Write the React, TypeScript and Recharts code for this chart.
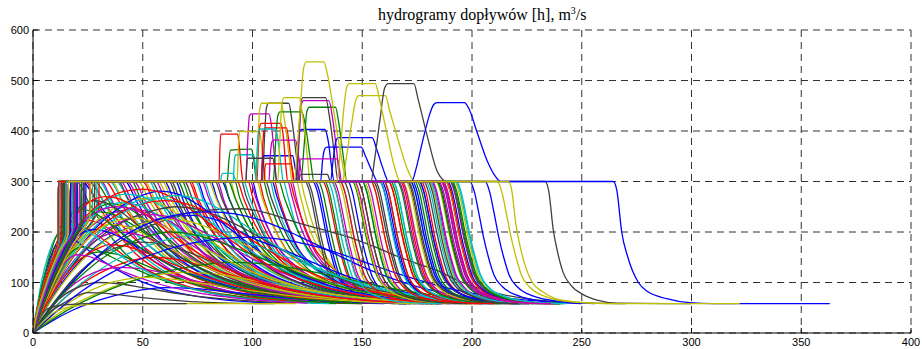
import React from "react";
import { LineChart, Line, XAxis, YAxis, CartesianGrid } from "recharts";

// MATLAB default line colour order: b g r c m y k
const COLORS = ["#0000ff", "#008000", "#ff0000", "#00bfbf", "#bf00bf", "#bfbf00", "#404040"];

const xTicks = [0, 50, 100, 150, 200, 250, 300, 350, 400];
const yTicks = [0, 100, 200, 300, 400, 500, 600];

// each run is a list of [t (h), Q (m3/s)]
// hydrographs clipped at 300
const cappedRuns: number[][][] = [
  [[0,0],[2,46],[4,80],[7,123],[9,146],[11.5,190],[11.6,300],[22,300],[30,255],[40,200],[52,152],[68,112],[90,82],[120,65],[160,58]],
  [[0,0],[2,42],[4,75],[7,118],[10,152],[13,188],[13.1,300],[28,300],[35,258],[45,205],[58,155],[75,115],[98,84],[128,66],[170,58]],
  [[0,0],[3,52],[6,96],[9,132],[12,166],[15,196],[15.1,300],[33,300],[39,262],[48,212],[60,162],[76,120],[98,88],[126,68],[165,58]],
  [[0,0],[3,46],[6,86],[10,131],[14,170],[17,198],[17.1,300],[38,300],[44,258],[53,205],[65,157],[80,118],[102,87],[130,67],[172,58]],
  [[0,0],[2,44],[5,88],[8,126],[11,160],[14,190],[14.1,300],[43,300],[48,265],[56,215],[67,165],[82,124],[102,92],[128,70],[168,58]],
  [[0,0],[3,41],[7,91],[11,136],[16,181],[20,212],[20.1,300],[48,300],[53,262],[61,210],[72,160],[87,120],[108,89],[135,68],[175,58]],
  [[0,0],[2,43],[5,84],[8,122],[12,162],[16,195],[16.1,300],[54,300],[59,260],[67,208],[78,158],[93,118],[114,88],[142,68],[182,58]],
  [[0,0],[3,48],[6,90],[10,135],[14,172],[18,204],[18.1,300],[60,300],[64,265],[71,214],[81,164],[95,123],[115,91],[142,70],[180,58]],
  [[0,0],[4,47],[8,92],[13,142],[18,185],[23,222],[23.1,300],[66,300],[70,262],[77,210],[86,162],[99,122],[118,90],[145,69],[182,58]],
  [[0,0],[2,45],[4,78],[7,120],[10,155],[12,180],[12.1,300],[72,300],[75,268],[81,218],[90,168],[102,127],[120,94],[145,72],[180,59]],
  [[0,0],[3,44],[6,84],[10,130],[14,168],[19,208],[19.1,300],[78,300],[81,266],[87,214],[95,166],[107,125],[124,93],[148,71],[185,58]],
  [[0,0],[2,42],[4,75],[7,118],[10,152],[13,188],[13.1,300],[84,300],[87,262],[92,212],[100,162],[111,122],[127,91],[150,70],[185,58]],
  [[0,0],[3,52],[6,96],[9,132],[12,166],[15,196],[15.1,300],[90,300],[92,270],[97,220],[104,168],[114,126],[129,94],[150,72],[182,59]],
  [[0,0],[4,50],[8,96],[12,138],[17,182],[22,218],[22.1,300],[95,300],[97,272],[102,222],[108,170],[117,128],[131,95],[152,73],[185,59]],
  [[0,0],[2,43],[5,84],[8,122],[12,162],[16,195],[16.1,300],[100,300],[102,268],[106,218],[112,168],[121,127],[134,95],[154,73],[186,59]],
  [[0,0],[3,48],[6,90],[10,135],[14,172],[18,204],[18.1,300],[105,300],[107,270],[111,220],[117,168],[125,128],[138,96],[157,74],[188,59]],
  [[0,0],[2,44],[5,88],[8,126],[11,160],[14,190],[14.1,300],[110,300],[112,268],[116,216],[121,166],[129,126],[141,95],[160,73],[190,59]],
  [[0,0],[3,41],[7,91],[11,136],[16,181],[20,212],[20.1,300],[114,300],[116,272],[119,224],[124,172],[131,130],[142,98],[160,75],[190,59]],
  [[0,0],[2,42],[4,75],[7,118],[10,152],[13,188],[13.1,300],[118,300],[120,266],[123,216],[128,165],[135,125],[146,95],[164,74],[192,59]],
  [[0,0],[3,46],[6,86],[10,131],[14,170],[17,198],[17.1,300],[122,300],[123.5,275],[127,222],[131,172],[137,130],[147,98],[164,75],[193,59]],
  [[0,0],[2,46],[4,80],[7,123],[9,146],[11.5,190],[11.6,300],[125,300],[127,280],[129,240],[131,195],[133.5,150],[136,114],[140,89],[147,72],[158,62],[175,58]],
  [[0,0],[4,44],[9,96],[15,150],[21,196],[26,232],[26.1,300],[127.5,300],[129.5,281],[131.5,242],[133.5,197],[136,152],[138.5,116],[142.5,90],[149.5,73],[160.5,62],[178,58]],
  [[0,0],[3,44],[6,84],[10,130],[14,168],[19,208],[19.1,300],[130,300],[132,279],[134,238],[136,193],[138.5,148],[141,112],[145,88],[152,71],[163,61],[180,58]],
  [[0,0],[3,52],[6,96],[9,132],[12,166],[15,196],[15.1,300],[132,300],[134,282],[136,243],[138,199],[140.5,153],[143,117],[147,91],[154,73],[165,62],[182,58]],
  [[0,0],[2,45],[4,78],[7,120],[10,155],[12,180],[12.1,300],[134.5,300],[136.5,278],[138.5,236],[140.5,190],[143,146],[145.5,111],[149.5,87],[156.5,71],[167.5,61],[185,58]],
  [[0,0],[4,47],[8,92],[13,142],[18,185],[23,222],[23.1,300],[137,300],[139,281],[141,240],[143,196],[145.5,151],[148,115],[152,90],[159,72],[170,62],[187,58]],
  [[0,0],[2,43],[5,84],[8,122],[12,162],[16,195],[16.1,300],[139,300],[141,280],[143,239],[145,194],[147.5,149],[150,113],[154,88],[161,72],[172,62],[189,58]],
  [[0,0],[3,41],[7,91],[11,136],[16,181],[20,212],[20.1,300],[141.5,300],[143.5,283],[145.5,244],[147.5,200],[150,155],[152.5,118],[156.5,92],[163.5,74],[174.5,63],[191,58]],
  [[0,0],[2,44],[5,88],[8,126],[11,160],[14,190],[14.1,300],[143.5,300],[145.5,279],[147.5,237],[149.5,192],[152,147],[154.5,112],[158.5,87],[165.5,71],[176.5,61],[193,58]],
  [[0,0],[2,42],[4,75],[7,118],[10,152],[13,188],[13.1,300],[145.5,300],[147.5,281],[149.5,241],[151.5,196],[154,151],[156.5,115],[160.5,90],[167.5,72],[178.5,62],[195,58]],
  [[0,0],[3,48],[6,90],[10,135],[14,172],[18,204],[18.1,300],[148,300],[150,280],[152,240],[154,195],[156.5,150],[159,114],[163,89],[170,72],[181,62],[198,58]],
  [[0,0],[4,50],[8,96],[12,138],[17,182],[22,218],[22.1,300],[150,300],[152,282],[154,242],[156,198],[158.5,152],[161,116],[165,90],[172,73],[183,62],[200,58]],
  [[0,0],[3,46],[6,86],[10,131],[14,170],[17,198],[17.1,300],[152,300],[154,279],[156,238],[158,193],[160.5,148],[163,113],[167,88],[174,71],[185,61],[202,58]],
  [[0,0],[2,46],[4,80],[7,123],[9,146],[11.5,190],[11.6,300],[154,300],[156,281],[158,240],[160,196],[162.5,151],[165,115],[169,90],[176,72],[187,62],[204,58]],
  [[0,0],[3,52],[6,96],[9,132],[12,166],[15,196],[15.1,300],[156,300],[158,280],[160,239],[162,194],[164.5,149],[167,113],[171,88],[178,72],[189,62],[206,58]],
  [[0,0],[4,44],[9,96],[15,150],[21,196],[26,232],[26.1,300],[158,300],[160,282],[162,243],[164,199],[166.5,154],[169,117],[173,91],[180,73],[191,62],[208,58]],
  [[0,0],[3,44],[6,84],[10,130],[14,168],[19,208],[19.1,300],[160,300],[162,279],[164,237],[166,192],[168.5,147],[171,112],[175,87],[182,71],[193,61],[210,58]],
  [[0,0],[2,45],[4,78],[7,120],[10,155],[12,180],[12.1,300],[162,300],[164,281],[166,241],[168,196],[170.5,151],[173,115],[177,90],[184,72],[195,62],[212,58]],
  [[0,0],[4,47],[8,92],[13,142],[18,185],[23,222],[23.1,300],[164,300],[166,280],[168,240],[170,195],[172.5,150],[175,114],[179,89],[186,72],[197,62],[214,58]],
  [[0,0],[2,43],[5,84],[8,122],[12,162],[16,195],[16.1,300],[166.5,300],[168.5,282],[170.5,242],[172.5,198],[175,152],[177.5,116],[181.5,90],[188.5,73],[199.5,62],[216,58]],
  [[0,0],[3,41],[7,91],[11,136],[16,181],[20,212],[20.1,300],[168.5,300],[170.5,279],[172.5,238],[174.5,193],[177,148],[179.5,113],[183.5,88],[190.5,71],[201.5,61],[218,58]],
  [[0,0],[2,44],[5,88],[8,126],[11,160],[14,190],[14.1,300],[170.5,300],[172.5,281],[174.5,240],[176.5,196],[179,151],[181.5,115],[185.5,90],[192.5,72],[203.5,62],[220,58]],
  [[0,0],[2,42],[4,75],[7,118],[10,152],[13,188],[13.1,300],[173,300],[175,280],[177,239],[179,194],[181.5,149],[184,113],[188,88],[195,72],[206,62],[222,58]],
  [[0,0],[3,48],[6,90],[10,135],[14,172],[18,204],[18.1,300],[175,300],[177,282],[179,243],[181,199],[183.5,153],[186,117],[190,91],[197,73],[208,62],[224,58]],
  [[0,0],[3,46],[6,86],[10,131],[14,170],[17,198],[17.1,300],[177,300],[179,279],[181,237],[183,192],[185.5,147],[188,112],[192,87],[199,71],[210,61],[226,58]],
  [[0,0],[3,52],[6,96],[9,132],[12,166],[15,196],[15.1,300],[179,300],[181,281],[183,241],[185,196],[187.5,151],[190,115],[194,90],[201,72],[212,62],[228,58]],
  [[0,0],[4,50],[8,96],[12,138],[17,182],[22,218],[22.1,300],[181.5,300],[183.5,280],[185.5,240],[187.5,195],[190,150],[192.5,114],[196.5,89],[203.5,72],[214.5,62],[231,58]],
  [[0,0],[2,46],[4,80],[7,123],[9,146],[11.5,190],[11.6,300],[183.5,300],[185.5,282],[187.5,242],[189.5,198],[192,152],[194.5,116],[198.5,90],[205.5,73],[216.5,62],[233,58]],
  [[0,0],[3,44],[6,84],[10,130],[14,168],[19,208],[19.1,300],[186,300],[188,279],[190,238],[192,193],[194.5,148],[197,113],[201,88],[208,71],[219,61],[235,58]],
  [[0,0],[4,47],[8,92],[13,142],[18,185],[23,222],[23.1,300],[188,300],[190,281],[192,241],[194,196],[196.5,151],[199,115],[203,90],[210,72],[221,62],[237,58]],
  [[0,0],[2,43],[5,84],[8,122],[12,162],[16,195],[16.1,300],[190,300],[192,280],[194,240],[196,195],[198.5,150],[201,114],[205,89],[212,72],[223,62],[240,58]],
  [[0,0],[2,44],[5,88],[8,126],[11,160],[14,190],[14.1,300],[25,300],[34,248],[45,192],[58,146],[75,108],[98,80],[130,64],[170,58]],
  [[0,0],[3,44],[6,84],[10,130],[14,168],[19,208],[19.1,300],[35,300],[41,258],[50,206],[62,158],[78,118],[100,88],[128,68],[168,58]],
  [[0,0],[3,52],[6,96],[9,132],[12,166],[15,196],[15.1,300],[46,300],[51,262],[59,210],[70,160],[85,120],[106,89],[133,68],[172,58]],
  [[0,0],[4,50],[8,96],[12,138],[17,182],[22,218],[22.1,300],[57,300],[62,258],[70,206],[81,156],[96,116],[117,87],[145,68],[185,58]],
  [[0,0],[2,46],[4,80],[7,123],[9,146],[11.5,190],[11.6,300],[69,300],[73,262],[80,210],[89,162],[102,122],[121,90],[147,70],[185,58]],
  [[0,0],[2,43],[5,84],[8,122],[12,162],[16,195],[16.1,300],[81,300],[84,264],[90,214],[98,165],[109,124],[126,93],[150,71],[186,58]],
  [[0,0],[3,41],[7,91],[11,136],[16,181],[20,212],[20.1,300],[92,300],[94,270],[99,220],[106,168],[116,127],[131,95],[153,73],[186,59]],
  [[0,0],[3,46],[6,86],[10,131],[14,170],[17,198],[17.1,300],[103,300],[105,268],[109,218],[115,167],[124,127],[137,95],[157,74],[188,59]],
];

// clipped runs that leave 300 early, with slower recessions
const midRuns: number[][][] = [
  [[0,0],[2,45],[4,78],[7,120],[10,155],[12,180],[12.1,300],[20,300],[25,262],[32,212],[41,162],[53,122],[70,92],[95,72],[130,60]],
  [[0,0],[2,42],[4,75],[7,118],[10,152],[13,188],[13.1,300],[24,300],[29,258],[37,206],[47,156],[60,118],[78,90],[104,71],[140,60]],
  [[0,0],[2,44],[5,88],[8,126],[11,160],[14,190],[14.1,300],[27,300],[31,268],[38,218],[46,170],[57,130],[73,98],[96,76],[130,62]],
  [[0,0],[2,46],[4,80],[7,123],[9,146],[11.5,190],[11.6,300],[31,300],[36,262],[43,212],[52,162],[64,122],[81,92],[106,72],[141,60]],
  [[0,0],[2,43],[5,84],[8,122],[12,162],[16,195],[16.1,300],[36,300],[41,260],[49,208],[59,158],[72,120],[90,91],[115,72],[150,60]],
  [[0,0],[3,52],[6,96],[9,132],[12,166],[15,196],[15.1,300],[39,300],[43,268],[50,218],[58,170],[69,130],[85,98],[108,76],[142,62]],
  [[0,0],[3,44],[6,84],[10,130],[14,168],[19,208],[19.1,300],[42,300],[47,262],[54,212],[63,162],[75,122],[92,92],[117,72],[152,60]],
  [[0,0],[3,46],[6,86],[10,131],[14,170],[17,198],[17.1,300],[45,300],[49,266],[56,216],[65,166],[77,126],[94,95],[118,74],[152,61]],
  [[0,0],[3,48],[6,90],[10,135],[14,172],[18,204],[18.1,300],[50,300],[55,260],[63,208],[73,158],[86,120],[104,91],[129,72],[164,60]],
  [[0,0],[3,41],[7,91],[11,136],[16,181],[20,212],[20.1,300],[53,300],[57,266],[64,216],[73,166],[85,126],[102,95],[126,74],[160,61]],
  [[0,0],[4,50],[8,96],[12,138],[17,182],[22,218],[22.1,300],[56,300],[60,265],[67,214],[76,164],[88,124],[105,93],[129,73],[163,60]],
  [[0,0],[4,47],[8,92],[13,142],[18,185],[23,222],[23.1,300],[59,300],[63,264],[70,212],[79,162],[91,122],[108,92],[132,72],[166,60]],
  [[0,0],[4,44],[9,96],[15,150],[21,196],[26,232],[26.1,300],[62,300],[65.5,265],[71,215],[79,165],[90,125],[106,94],[128,73],[160,60]],
  [[0,0],[2,45],[4,78],[7,120],[10,155],[12,180],[12.1,300],[65,300],[68.5,262],[74,212],[82,162],[93,122],[109,92],[131,72],[163,60]],
  [[0,0],[2,42],[4,75],[7,118],[10,152],[13,188],[13.1,300],[68,300],[71,268],[76,220],[83,170],[93,130],[108,97],[129,75],[160,61]],
  [[0,0],[2,44],[5,88],[8,126],[11,160],[14,190],[14.1,300],[71,300],[74.5,265],[80,215],[88,165],[99,125],[115,94],[137,73],[169,60]],
  [[0,0],[2,46],[4,80],[7,123],[9,146],[11.5,190],[11.6,300],[74,300],[77.5,263],[83,213],[91,163],[102,123],[118,93],[140,72],[172,60]],
  [[0,0],[2,43],[5,84],[8,122],[12,162],[16,195],[16.1,300],[77,300],[80,268],[85,220],[92,170],[102,130],[117,97],[138,75],[169,61]],
  [[0,0],[3,52],[6,96],[9,132],[12,166],[15,196],[15.1,300],[80,300],[83.5,265],[89,215],[97,165],[108,125],[124,94],[146,73],[178,60]],
  [[0,0],[3,44],[6,84],[10,130],[14,168],[19,208],[19.1,300],[83,300],[86,267],[91,218],[98,168],[108,128],[123,96],[144,74],[175,60]],
  [[0,0],[3,46],[6,86],[10,131],[14,170],[17,198],[17.1,300],[86,300],[89.5,264],[95,214],[103,164],[114,124],[130,93],[152,72],[184,60]],
  [[0,0],[3,48],[6,90],[10,135],[14,172],[18,204],[18.1,300],[89,300],[92,268],[97,220],[104,170],[114,130],[129,97],[150,75],[180,61]],
  [[0,0],[3,41],[7,91],[11,136],[16,181],[20,212],[20.1,300],[93,300],[96,266],[101,216],[108,166],[118,126],[133,95],[154,74],[185,60]],
  [[0,0],[4,50],[8,96],[12,138],[17,182],[22,218],[22.1,300],[96,300],[98.5,270],[103,220],[109,170],[118,130],[131,97],[150,75],[180,61]],
  [[0,0],[4,47],[8,92],[13,142],[18,185],[23,222],[23.1,300],[99,300],[101.5,268],[106,218],[112,168],[121,128],[134,96],[153,74],[183,60]],
  [[0,0],[4,44],[9,96],[15,150],[21,196],[26,232],[26.1,300],[102,300],[104.5,266],[109,216],[115,166],[124,126],[137,95],[156,74],[186,60]],
  [[0,0],[2,45],[4,78],[7,120],[10,155],[12,180],[12.1,300],[106,300],[108.5,268],[113,218],[119,168],[128,128],[141,96],[160,74],[190,60]],
  [[0,0],[2,42],[4,75],[7,118],[10,152],[13,188],[13.1,300],[109,300],[111,272],[115,222],[120,172],[128,132],[140,99],[158,76],[188,61]],
  [[0,0],[2,44],[5,88],[8,126],[11,160],[14,190],[14.1,300],[112,300],[114.5,268],[119,218],[125,168],[134,128],[147,96],[166,74],[196,60]],
  [[0,0],[2,46],[4,80],[7,123],[9,146],[11.5,190],[11.6,300],[117,300],[119,270],[123,220],[128,170],[136,130],[148,98],[166,75],[194,60]],
];

// more clipped runs, in between the ones above
const extraRuns: number[][][] = [
  [[0,0],[4,40],[9,88],[15,138],[21,180],[27,218],[27.1,300],[30,300],[37,250],[47,196],[60,150],[77,112],[100,84],[130,66],[170,58]],
  [[0,0],[3,50],[7,100],[12,150],[17,190],[21,214],[21.1,300],[40,300],[46,250],[55,198],[67,152],[83,114],[105,86],[133,67],[172,58]],
  [[0,0],[5,52],[10,100],[16,150],[22,194],[28,232],[28.1,300],[51,300],[56,258],[64,206],[75,158],[90,118],[111,88],[138,68],[178,58]],
  [[0,0],[2,47],[5,92],[8,130],[11,163],[13,184],[13.1,300],[63,300],[67,262],[74,210],[84,160],[98,120],[117,89],[143,69],[182,58]],
  [[0,0],[4,46],[8,90],[13,140],[19,188],[24,224],[24.1,300],[75,300],[78,266],[84,214],[93,164],[105,124],[122,92],[147,71],[185,58]],
  [[0,0],[3,45],[7,94],[11,138],[15,176],[18,202],[18.1,300],[87,300],[89,272],[94,222],[101,170],[112,128],[127,95],[149,73],[184,59]],
  [[0,0],[5,50],[10,98],[16,148],[23,200],[30,246],[30.1,300],[98,300],[100,270],[104,222],[110,172],[119,130],[132,97],[152,74],[185,59]],
  [[0,0],[2,44],[5,86],[9,132],[13,170],[15,188],[15.1,300],[108,300],[110,268],[114,218],[120,168],[128,128],[140,96],[159,74],[190,59]],
  [[0,0],[3,47],[6,88],[10,132],[15,178],[19,210],[19.1,300],[116,300],[118,270],[121,222],[126,170],[133,128],[144,97],[162,75],[191,59]],
  [[0,0],[4,48],[8,94],[13,144],[18,186],[22,214],[22.1,300],[120,300],[122,268],[125,218],[130,168],[137,128],[148,97],[165,75],[193,59]],
  [[0,0],[2,44],[5,88],[8,126],[11,160],[14,190],[14.1,300],[124,300],[126,280],[128,240],[130,195],[132.5,150],[135,114],[139,89],[146,72],[157,62],[174,58]],
  [[0,0],[4,50],[8,96],[12,138],[17,182],[22,218],[22.1,300],[128.5,300],[130.5,281],[132.5,241],[134.5,196],[137,151],[139.5,115],[143.5,90],[150.5,72],[161.5,62],[178,58]],
  [[0,0],[3,41],[7,91],[11,136],[16,181],[20,212],[20.1,300],[133,300],[135,279],[137,238],[139,193],[141.5,148],[144,113],[148,88],[155,71],[166,61],[183,58]],
  [[0,0],[2,42],[4,75],[7,118],[10,152],[13,188],[13.1,300],[136,300],[138,282],[140,242],[142,197],[144.5,152],[147,116],[151,90],[158,73],[169,62],[186,58]],
  [[0,0],[5,50],[10,98],[16,148],[23,200],[29,240],[29.1,300],[140,300],[142,280],[144,239],[146,194],[148.5,149],[151,113],[155,88],[162,72],[173,62],[190,58]],
  [[0,0],[3,48],[6,90],[10,135],[14,172],[18,204],[18.1,300],[146.5,300],[148.5,281],[150.5,241],[152.5,196],[155,151],[157.5,115],[161.5,90],[168.5,72],[179.5,62],[196,58]],
  [[0,0],[2,46],[4,80],[7,123],[9,146],[11.5,190],[11.6,300],[151,300],[153,279],[155,238],[157,193],[159.5,148],[162,113],[166,88],[173,71],[184,61],[201,58]],
  [[0,0],[4,47],[8,92],[13,142],[18,185],[23,222],[23.1,300],[155,300],[157,282],[159,242],[161,198],[163.5,152],[166,116],[170,90],[177,73],[188,62],[205,58]],
  [[0,0],[3,52],[6,96],[9,132],[12,166],[15,196],[15.1,300],[159,300],[161,280],[163,240],[165,195],[167.5,150],[170,114],[174,89],[181,72],[192,62],[209,58]],
  [[0,0],[2,45],[4,78],[7,120],[10,155],[12,180],[12.1,300],[163,300],[165,281],[167,241],[169,196],[171.5,151],[174,115],[178,90],[185,72],[196,62],[213,58]],
  [[0,0],[4,44],[9,96],[15,150],[21,196],[26,232],[26.1,300],[167.5,300],[169.5,279],[171.5,238],[173.5,193],[176,148],[178.5,113],[182.5,88],[189.5,71],[200.5,61],[217,58]],
  [[0,0],[3,44],[6,84],[10,130],[14,168],[19,208],[19.1,300],[172,300],[174,282],[176,242],[178,198],[180.5,152],[183,116],[187,90],[194,73],[205,62],[222,58]],
  [[0,0],[2,43],[5,84],[8,122],[12,162],[16,195],[16.1,300],[176,300],[178,280],[180,240],[182,195],[184.5,150],[187,114],[191,89],[198,72],[209,62],[226,58]],
  [[0,0],[3,46],[6,86],[10,131],[14,170],[17,198],[17.1,300],[180.5,300],[182.5,281],[184.5,241],[186.5,196],[189,151],[191.5,115],[195.5,90],[202.5,72],[213.5,62],[230,58]],
  [[0,0],[5,52],[10,100],[16,150],[22,194],[28,232],[28.1,300],[184.5,300],[186.5,279],[188.5,238],[190.5,193],[193,148],[195.5,113],[199.5,88],[206.5,71],[217.5,61],[234,58]],
];

// hydrographs that peak below 300
const peakRuns: number[][][] = [
  [[0,0],[6,50],[13,98],[22,145],[33,185],[46,212],[60,228],[73,233],[86,220],[99,190],[115,163],[130,135],[148,105],[168,82],[190,67],[215,60]],
  [[0,0],[4,55],[8,105],[13,155],[19,200],[26,235],[35,256],[42,250],[50,228],[60,192],[72,152],[88,112],[108,83],[135,65],[170,58]],
  [[0,0],[3,55],[6,100],[10,148],[15,188],[20,212],[25,223],[30,218],[38,196],[48,163],[60,128],[75,98],[95,75],[120,62],[150,58]],
  [[0,0],[5,52],[11,104],[18,155],[27,205],[38,243],[48,262],[55,268],[62,264],[72,245],[84,210],[98,166],[114,125],[134,93],[160,71],[195,59]],
  [[0,0],[4,48],[9,100],[15,150],[22,192],[32,228],[45,245],[53,240],[62,222],[73,190],[86,150],[102,112],[122,84],[148,66],[180,58]],
  [[0,0],[5,55],[10,105],[17,160],[25,205],[35,242],[48,266],[56,260],[65,238],[76,200],[90,155],[106,115],[126,86],[152,67],[185,58]],
  [[0,0],[8,48],[17,98],[28,145],[42,188],[58,220],[76,242],[95,246],[108,236],[117,223],[130,207],[144,190],[156,170],[167,150],[176,136],[184,124],[193,105],[202,90],[214,76],[228,66],[248,60],[270,58]],
  [[0,0],[5,50],[11,100],[19,155],[28,205],[40,250],[50,273],[58,281],[66,275],[76,252],[88,212],[102,165],[118,122],[138,90],[165,69],[200,59]],
  [[0,0],[3,52],[7,105],[12,155],[18,198],[24,226],[30,240],[36,236],[44,218],[55,185],[68,148],[85,112],[106,85],[132,67],[165,58]],
  [[0,0],[2,45],[5,95],[9,145],[13,180],[17,202],[20,210],[25,205],[32,185],[42,152],[55,118],[72,90],[95,70],[125,60]],
  [[0,0],[4,55],[9,110],[15,165],[22,215],[31,255],[42,275],[50,270],[59,250],[70,215],[83,172],[98,130],[116,96],[140,72],[172,60]],
  [[0,0],[5,45],[10,85],[17,130],[25,170],[32,192],[40,200],[48,195],[58,178],[70,150],[85,118],[104,90],[128,70],[160,59]],
  [[0,0],[6,48],[13,95],[22,142],[32,180],[44,208],[55,222],[62,225],[70,222],[82,205],[96,176],[112,140],[130,106],[152,80],[180,64],[210,58]],
  [[0,0],[6,40],[13,80],[21,120],[30,152],[40,172],[50,180],[60,175],[72,158],[86,132],[102,106],[122,84],[146,68],[178,59]],
  [[0,0],[2,50],[4,92],[7,138],[10,172],[14,190],[18,186],[24,168],[32,142],[44,112],[60,86],[82,68],[110,59]],
  [[0,0],[4,40],[9,82],[15,120],[22,148],[30,160],[38,156],[48,140],[60,118],[75,95],[95,76],[120,64],[150,58]],
  [[0,0],[7,38],[15,72],[25,105],[36,130],[46,145],[55,150],[65,146],[78,132],[94,110],[114,88],[138,71],[168,60]],
  [[0,0],[4,58],[9,115],[15,168],[22,210],[30,240],[40,258],[47,254],[56,236],[67,204],[80,164],[96,124],[116,92],[142,70],[175,59]],
  [[0,0],[5,48],[11,96],[19,145],[28,186],[39,218],[52,235],[60,232],[70,216],[82,190],[96,156],[112,122],[132,92],[158,70],[190,59]],
  [[0,0],[4,48],[9,98],[15,144],[22,182],[28,204],[35,215],[42,211],[51,195],[63,166],[78,132],[96,102],[118,80],[146,65],[178,58]],
  [[0,0],[6,52],[13,104],[22,155],[33,198],[45,228],[56,244],[65,250],[73,247],[84,232],[97,205],[112,168],[128,130],[148,96],[172,73],[200,61]],
  [[0,0],[3,48],[7,100],[12,145],[17,178],[22,197],[28,205],[34,200],[43,182],[55,152],[70,120],[90,92],[114,72],[142,61]],
  [[0,0],[3,42],[7,88],[11,124],[16,154],[22,170],[28,166],[36,150],[47,126],[62,100],[82,78],[108,64],[138,58]],
  [[0,0],[5,50],[11,102],[19,155],[28,200],[39,236],[50,256],[60,262],[68,258],[79,240],[92,206],[107,164],[124,124],[145,92],[170,71],[200,60]],
  [[0,0],[8,40],[17,80],[28,118],[40,150],[53,174],[65,189],[75,195],[86,191],[100,176],[116,150],[134,120],[154,93],[178,73],[205,61]],
  [[0,0],[5,32],[11,65],[19,98],[28,120],[40,130],[50,127],[62,116],[78,99],[98,82],[122,68],[150,60]],
  [[0,0],[8,28],[18,55],[30,80],[44,102],[58,116],[70,120],[82,117],[98,106],[118,90],[142,74],[170,63],[200,58]],
  [[0,0],[4,28],[9,55],[15,78],[22,93],[30,100],[38,98],[50,90],[66,78],[88,67],[115,60]],
  [[0,0],[8,22],[18,45],[30,65],[44,81],[60,90],[74,88],[92,80],[114,70],[140,62],[170,58]],
  [[0,0],[10,30],[22,60],[36,88],[52,112],[70,130],[90,140],[105,137],[122,126],[142,108],[164,88],[188,72],[215,62],[240,58]],
  [[0,0],[4,55],[9,112],[15,170],[22,220],[31,258],[41,280],[50,285],[57,280],[66,262],[77,228],[90,184],[105,140],[123,104],[146,78],[175,62],[205,58]],
  [[0,0],[6,52],[13,105],[21,155],[31,203],[42,240],[54,263],[65,272],[73,268],[83,250],[96,215],[111,172],[128,132],[148,98],[172,75],[200,62]],
  [[0,0],[3,50],[7,102],[12,152],[18,196],[25,228],[31,244],[38,250],[45,246],[54,228],[65,196],[78,158],[94,120],[114,90],[140,70],[172,59]],
  [[0,0],[5,46],[10,92],[16,138],[23,178],[31,208],[38,222],[45,228],[52,224],[62,206],[74,178],[88,145],[105,112],[126,86],[152,68],[185,59]],
  [[0,0],[3,60],[6,115],[10,170],[14,210],[19,240],[23,255],[28,262],[33,258],[40,240],[50,205],[62,165],[77,126],[96,95],[120,73],[150,61]],
  [[0,0],[8,48],[17,96],[27,142],[38,182],[50,212],[63,232],[80,240],[92,236],[106,220],[121,192],[137,158],[155,122],[175,92],[197,72],[222,61]],
  [[0,0],[7,42],[15,84],[24,122],[34,155],[45,180],[55,195],[62,200],[72,196],[85,180],[100,155],[117,125],[136,97],[158,76],[185,62]],
  [[0,0],[4,38],[9,78],[15,115],[21,144],[28,164],[35,175],[42,172],[52,158],[64,136],[78,112],[96,89],[118,72],[145,61]],
  [[0,0],[2,55],[4,105],[7,155],[10,188],[14,208],[18,215],[22,210],[28,192],[36,165],[47,133],[61,104],[80,80],[105,65],[135,58]],
  [[0,0],[3,42],[6,80],[10,115],[15,142],[20,155],[25,152],[32,140],[42,120],[55,100],[72,82],[95,68],[125,59]],
  [[0,0],[6,25],[13,50],[22,75],[32,95],[42,106],[50,110],[60,108],[74,100],[92,88],[115,75],[142,64],[172,58]],
  [[0,0],[4,24],[9,45],[15,62],[20,74],[25,80],[32,79],[44,73],[60,66],[82,60],[110,58]],
  [[0,0],[10,40],[22,82],[36,120],[52,152],[68,174],[84,186],[100,190],[114,185],[130,170],[148,145],[168,115],[188,90],[210,72],[235,62]],
  [[0,0],[2,52],[5,110],[8,160],[12,205],[16,232],[22,245],[27,240],[34,220],[43,188],[55,152],[70,118],[90,90],[115,71],[145,61]],
  [[0,0],[3,58],[7,118],[12,175],[17,218],[23,250],[28,265],[33,270],[39,266],[47,248],[58,212],[71,170],[87,130],[107,97],[132,74],[165,61]],
];

// slow low runs along the bottom
const lowRuns: number[][][] = [
  [[0,0],[3,15],[6,28],[9,39],[13,47],[17,52],[22,55],[30,57],[60,58],[120,58]],
  [[0,57],[0.8,4],[3,30],[6,46],[10,53],[16,56],[25,58],[70,58]],
];

// late runs, incl. the ones with a flat top above 300
const overflowRuns: number[][][] = [
  [[0,0],[3,46],[6,86],[10,131],[14,170],[17,198],[17.1,300],[119.5,300],[120.5,340],[121.3,398],[122.5,403],[133,403],[134.5,380],[136,330],[137.2,300],[176,300],[178,281],[180,240],[182,196],[184.5,151],[187,115],[191,90],[198,72],[209,62],[226,58]],
  [[0,0],[3,44],[6,84],[10,130],[14,168],[19,208],[19.1,300],[88.5,300],[89.2,340],[90,362],[99.5,364],[100.5,345],[101.5,310],[102.2,300],[150,300],[152,280],[154,239],[156,194],[158.5,149],[161,113],[165,88],[172,72],[183,62],[200,58]],
  [[0,0],[2,46],[4,80],[7,123],[9,146],[11.5,190],[11.6,300],[84.8,300],[85.1,360],[85.6,394],[93.2,394],[94,370],[95,320],[95.7,300],[140,300],[142,281],[144,241],[146,196],[148.5,151],[151,115],[155,90],[162,72],[173,62],[190,58]],
  [[0,0],[3,52],[6,96],[9,132],[12,166],[15,196],[15.1,300],[91.2,300],[91.8,345],[92.5,353],[100.5,353],[101.3,330],[102.3,300],[158,300],[160,279],[162,238],[164,193],[166.5,148],[169,113],[173,88],[180,71],[191,61],[208,58]],
  [[0,0],[2,44],[5,88],[8,126],[11,160],[14,190],[14.1,300],[97,300],[97.8,380],[98.6,430],[99.5,434],[107.5,434],[108.5,415],[110,350],[111,300],[168,300],[170,282],[172,242],[174,198],[176.5,152],[179,116],[183,90],[190,73],[201,62],[218,58]],
  [[0,0],[2,45],[4,78],[7,120],[10,155],[12,180],[12.1,300],[93,300],[93.6,370],[94.3,399],[103.2,399],[104.2,370],[105.5,320],[106,300],[146,300],[148,280],[150,240],[152,195],[154.5,150],[157,114],[161,89],[168,72],[179,62],[196,58]],
  [[0,0],[4,47],[8,92],[13,142],[18,185],[23,222],[23.1,300],[104.5,300],[105.5,390],[106.3,445],[107.3,455],[116.5,455],[118,420],[120,350],[121.5,300],[180,300],[182,279],[184,237],[186,192],[188.5,147],[191,112],[195,87],[202,71],[213,61],[230,58]],

  [[0,0],[3,48],[6,90],[10,135],[14,172],[18,204],[18.1,300],[104,300],[104.6,340],[105.3,351],[118.3,351],[119.5,325],[120.8,300],[172,300],[174,281],[176,241],[178,196],[180.5,151],[183,115],[187,90],[194,72],[205,62],[222,58]],
  [[0,0],[2,42],[4,75],[7,118],[10,152],[13,188],[13.1,300],[122,300],[123.5,370],[124.7,437],[125.8,447],[137.8,447],[139.5,410],[141.5,345],[143,300],[184,300],[186,280],[188,239],[190,194],[192.5,149],[195,113],[199,88],[206,72],[217,62],[234,58]],
  [[0,0],[2,43],[5,84],[8,122],[12,162],[16,195],[16.1,300],[102,300],[102.7,370],[103.3,410],[104,415],[113,415],[114,390],[115.2,330],[116,300],[162,300],[164,282],[166,242],[168,198],[170.5,152],[173,116],[177,90],[184,73],[195,62],[212,58]],
  [[0,0],[3,41],[7,91],[11,136],[16,181],[20,212],[20.1,300],[85.5,300],[85.9,313],[86.5,316],[91,316],[92,306],[92.8,300],[136,300],[138,279],[140,238],[142,193],[144.5,148],[147,113],[151,88],[158,71],[169,61],[186,58]],
  [[0,0],[4,50],[8,96],[12,138],[17,182],[22,218],[22.1,300],[120,300],[121.2,380],[122.2,450],[123.2,460],[134.8,460],[136.5,425],[138.5,355],[140,300],[186,300],[188,281],[190,241],[192,196],[194.5,151],[197,115],[201,90],[208,72],[219,62],[236,58]],
  [[0,0],[4,44],[9,96],[15,150],[21,196],[26,232],[26.1,300],[101.5,300],[102.5,380],[103.3,445],[104.3,455],[113,455],[114.8,415],[116.8,345],[118,300],[170,300],[172,280],[174,240],[176,195],[178.5,150],[181,114],[185,89],[192,72],[203,62],[220,58]],
  [[0,0],[3,46],[6,86],[10,131],[14,170],[17,198],[17.1,300],[120,300],[121,385],[122,455],[123,466],[133.3,466],[135,430],[137.3,355],[139,300],[178,300],[180,282],[182,242],[184,198],[186.5,152],[189,116],[193,90],[200,73],[211,62],[228,58]],

  [[0,0],[2,44],[5,88],[8,126],[11,160],[14,190],[14.1,300],[131,300],[132,345],[133,365],[134,368],[149.5,368],[151.5,350],[154.5,320],[157,300],[199,300],[201,281],[203,240],[205,195],[207.5,150],[210,115],[214,91],[221,74],[232,63],[250,58]],
  [[0,0],[3,52],[6,96],[9,132],[12,166],[15,196],[15.1,300],[109.5,300],[110.5,375],[111.5,430],[112.5,438],[122.5,438],[124.5,400],[126.5,340],[128,300],[174,300],[176,279],[178,238],[180,193],[182.5,148],[185,113],[189,88],[196,71],[207,61],[224,58]],
  [[0,0],[3,44],[6,84],[10,130],[14,168],[19,208],[19.1,300],[104,300],[104.6,365],[105.2,400],[106,406],[115.5,406],[116.8,370],[118,325],[118.8,300],[154,300],[156,281],[158,241],[160,196],[162.5,151],[165,115],[169,90],[176,72],[187,62],[204,58]],
  [[0,0],[2,46],[4,80],[7,123],[9,146],[11.5,190],[11.6,300],[101.5,300],[102.1,360],[102.8,400],[103.6,404],[110.6,404],[111.8,375],[113.2,325],[114,300],[164,300],[166,280],[168,239],[170,194],[172.5,149],[175,113],[179,88],[186,72],[197,62],[214,58]],
  [[0,0],[4,47],[8,92],[13,142],[18,185],[23,222],[23.1,300],[107.5,300],[108.1,350],[108.8,378],[109.6,382],[119.6,382],[120.8,355],[122.2,318],[123,300],[182,300],[184,279],[186,238],[188,193],[190.5,148],[193,113],[197,88],[204,71],[215,61],[232,58]],
  [[0,0],[2,43],[5,84],[8,122],[12,162],[16,195],[16.1,300],[111.5,300],[112.5,385],[113.4,455],[114.4,466],[121.2,466],[123,425],[125,350],[126.2,300],[188,300],[190,282],[192,242],[194,198],[196.5,152],[199,116],[203,90],[210,73],[221,62],[238,58]],
  [[0,0],[2,42],[4,75],[7,118],[10,152],[13,188],[13.1,300],[97,300],[97.3,330],[97.8,346],[109.2,346],[110.2,325],[111,300],[148,300],[150,280],[152,240],[154,195],[156.5,150],[159,114],[163,89],[170,72],[181,62],[198,58]],

  [[0,0],[2,45],[4,78],[7,120],[10,155],[12,180],[12.1,300],[135.5,300],[136.8,345],[138,380],[139,387],[154.5,387],[156.5,365],[159.5,325],[162,300],[206,300],[208,280],[210,239],[212,194],[214.5,149],[217,114],[221,90],[228,73],[239,63],[256,58]],
  [[0,0],[3,41],[7,91],[11,136],[16,181],[20,212],[20.1,300],[166,300],[168,281],[170,241],[172,196],[174.5,151],[177,115],[181,90],[188,72],[199,62],[216,58]],
  [[0,0],[3,48],[6,90],[10,135],[14,172],[18,204],[18.1,300],[105.3,300],[105.6,325],[106.1,335],[117.6,335],[118.4,318],[119.1,300],[160,300],[162,279],[164,237],[166,192],[168.5,147],[171,112],[175,87],[182,71],[193,61],[210,58]],
  [[0,0],[2,45],[4,78],[7,120],[10,155],[12,180],[12.1,300],[181,300],[183,280],[185,240],[187,195],[189.5,150],[192,114],[196,89],[203,72],[214,62],[231,58]],
  [[0,0],[3,46],[6,86],[10,131],[14,170],[17,198],[17.1,300],[121,300],[121.4,330],[122,345],[138.6,345],[139.6,325],[140.6,300],[190,300],[192,281],[194,241],[196,196],[198.5,151],[201,115],[205,90],[212,72],[223,62],[240,58]],
  [[0,0],[3,52],[6,96],[9,132],[12,166],[15,196],[15.1,300],[119,300],[120.5,370],[122,460],[123.3,525],[124.5,537],[132.5,537],[134,515],[137,440],[140,360],[142.5,305],[143.5,300],[192,300],[194,280],[196,239],[198,194],[200.5,149],[203,113],[207,88],[214,72],[225,62],[242,58]],
  [[0,0],[2,44],[5,88],[8,126],[11,160],[14,190],[14.1,300],[121.2,300],[121.5,310],[122,314],[134.2,314],[134.9,306],[135.5,300],[171,300],[173,282],[175,242],[177,198],[179.5,152],[182,116],[186,90],[193,73],[204,62],[221,58]],

  [[0,0],[3,46],[6,86],[10,131],[14,170],[17,198],[17.1,300],[189,300],[191,280],[193,240],[195,195],[197.5,150],[200,114],[204,89],[211,72],[222,62],[239,58]],
  [[0,0],[2,44],[5,88],[8,126],[11,160],[14,190],[14.1,300],[191,300],[193,281],[195,241],[197,196],[199.5,151],[202,115],[206,90],[213,72],[224,62],[241,58]],
  [[0,0],[2,42],[4,75],[7,118],[10,152],[13,188],[13.1,300],[187,300],[189,279],[191,238],[193,193],[195.5,148],[198,113],[202,88],[209,71],[220,61],[237,58]],
  [[0,0],[3,48],[6,90],[10,135],[14,172],[18,204],[18.1,300],[192.5,300],[194.5,282],[196.5,242],[198.5,198],[201,152],[203.5,116],[207.5,90],[214.5,73],[225.5,62],[242,58]],
  [[0,0],[3,52],[6,96],[9,132],[12,166],[15,196],[15.1,300],[185,300],[187,280],[189,239],[191,194],[193.5,149],[196,113],[200,88],[207,72],[218,62],[235,58]],
  [[0,0],[2,46],[4,80],[7,123],[9,146],[11.5,190],[11.6,300],[141,300],[142.5,340],[145,410],[147,460],[148.5,470],[160.5,470],[162.5,440],[166.5,380],[170.5,325],[173.3,302],[174.5,300],[211.5,300],[213.5,281],[215.5,240],[217.5,196],[220,151],[222.5,115],[226.5,90],[233.5,72],[244.5,62],[262,58]],
  [[0,0],[4,47],[8,92],[13,142],[18,185],[23,222],[23.1,300],[154,300],[155.5,340],[158,420],[160.2,485],[161.8,494],[173.5,494],[175.5,462],[179.5,392],[184,322],[187,303],[188.5,300],[233.3,300],[235,280],[237,205],[239,160],[241.5,120],[245,95],[250.7,76],[257,65],[266,59],[300,58]],

  [[0,0],[3,41],[7,91],[11,136],[16,181],[20,212],[20.1,300],[172.5,300],[174.5,325],[177.5,380],[180.5,430],[182.5,452],[184,456],[196.5,456],[198.5,445],[202.5,395],[207,340],[211,308],[213,300],[264.4,300],[266,282],[268.2,200],[271,150],[275.8,100],[280,82],[288.7,68],[299,60],[310,58],[363,58]],
  [[0,0],[4,50],[8,96],[12,138],[17,182],[22,218],[22.1,300],[190.5,300],[192.5,281],[194.5,241],[196.5,196],[199,151],[201.5,115],[205.5,90],[212.5,72],[223.5,62],[240,58]],
  [[0,0],[2,46],[4,80],[7,123],[9,146],[11.5,190],[11.6,300],[188.5,300],[190.5,279],[192.5,238],[194.5,193],[197,148],[199.5,113],[203.5,88],[210.5,71],[221.5,61],[238,58]],
  [[0,0],[3,52],[6,96],[9,132],[12,166],[15,196],[15.1,300],[193,300],[195,280],[197,240],[199,195],[201.5,150],[204,114],[208,89],[215,72],[226,62],[243,58]],
  [[0,0],[3,44],[6,84],[10,130],[14,168],[19,208],[19.1,300],[186.5,300],[188.5,282],[190.5,242],[192.5,198],[195,152],[197.5,116],[201.5,90],[208.5,73],[219.5,62],[236,58]],
  [[0,0],[2,43],[5,84],[8,122],[12,162],[16,195],[16.1,300],[138.5,300],[139.8,350],[141.5,440],[142.8,485],[144,494],[156,494],[157.5,470],[160.5,410],[164,340],[166.5,305],[167.5,300],[216.5,300],[218,285],[220,215],[222,170],[224.5,130],[227.5,100],[232,82],[238,68],[248,61],[265,58],[322,58]],
];

const toPoints = (run: number[][]) => run.map(([t, q]) => ({ t, q }));

const TICK_FONT = '"Liberation Sans", Arial, Helvetica, sans-serif';

function XTick({ x, y, payload }: any) {
  return (
    <g>
      <line x1={x} x2={x} y1={y} y2={y - 5} stroke="#000" />
      <text x={x} y={y + 13} textAnchor="middle" fontSize={11} fontFamily={TICK_FONT} fill="#000">
        {payload.value}
      </text>
    </g>
  );
}

function YTick({ x, y, payload }: any) {
  return (
    <g>
      <line x1={x} x2={x + 5} y1={y} y2={y} stroke="#000" />
      <text x={x - 4} y={y + 4} textAnchor="end" fontSize={11} fontFamily={TICK_FONT} fill="#000">
        {payload.value}
      </text>
    </g>
  );
}

function RightTick({ x, y }: any) {
  return <line x1={x - 5} x2={x} y1={y} y2={y} stroke="#000" />;
}

const groups = [
  { name: "c", runs: cappedRuns, offset: 0 },
  { name: "m", runs: midRuns, offset: 1 },
  { name: "e", runs: extraRuns, offset: 3 },
  { name: "p", runs: peakRuns, offset: 0 },
  { name: "l", runs: lowRuns, offset: 5 },
  { name: "o", runs: overflowRuns, offset: 0 },
];

export default function App() {
  const series = groups.flatMap((g) =>
    g.runs.map((run, i) => ({
      key: `${g.name}${i}`,
      data: toPoints(run),
      color: COLORS[(i + g.offset) % COLORS.length],
    }))
  );

  return (
    <div style={{ position: "absolute", left: 0, top: 0, width: 922, height: 349, background: "#fff" }}>
      <LineChart width={922} height={349} margin={{ top: 30, right: 0, bottom: 0, left: 0 }}>
        <CartesianGrid stroke="#333" strokeDasharray="7 5" />
        <XAxis
          dataKey="t"
          type="number"
          domain={[0, 400]}
          ticks={xTicks}
          interval={0}
          height={16}
          tickSize={0}
          tickMargin={0}
          tickLine={false}
          tick={(p: any) => <XTick {...p} />}
          axisLine={{ stroke: "#000" }}
          allowDataOverflow
        />
        <YAxis
          type="number"
          domain={[0, 600]}
          ticks={yTicks}
          interval={0}
          width={33}
          tickSize={0}
          tickMargin={0}
          tickLine={false}
          tick={(p: any) => <YTick {...p} />}
          axisLine={{ stroke: "#000" }}
          allowDataOverflow
        />
        <YAxis
          yAxisId="right"
          orientation="right"
          type="number"
          domain={[0, 600]}
          ticks={yTicks}
          interval={0}
          width={11}
          tickSize={0}
          tickMargin={0}
          tickLine={false}
          axisLine={false}
          tick={(p: any) => <RightTick {...p} />}
        />
        {series.map((s) => (
          <Line
            key={s.key}
            data={s.data}
            dataKey="q"
            type="monotone"
            stroke={s.color}
            strokeWidth={1.3}
            dot={false}
            activeDot={false}
            isAnimationActive={false}
          />
        ))}
      </LineChart>
      <div
        style={{
          position: "absolute",
          left: 378,
          top: 6,
          fontFamily: '"Liberation Serif", "Times New Roman", serif',
          fontSize: 16,
          lineHeight: "18px",
          whiteSpace: "nowrap",
          color: "#000",
        }}
      >
        hydrogramy dopływów [h], m
        <span style={{ fontSize: 10, position: "relative", top: -6 }}>3</span>/s
      </div>
    </div>
  );
}
